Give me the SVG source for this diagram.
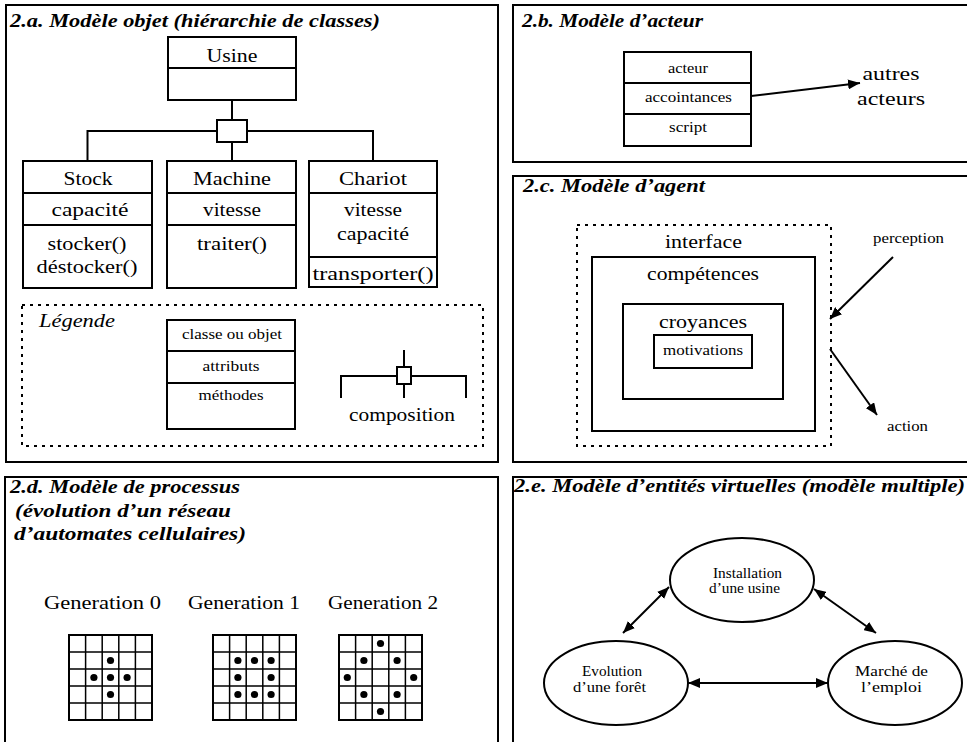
<svg xmlns="http://www.w3.org/2000/svg" xmlns:xlink="http://www.w3.org/1999/xlink" width="967" height="742" viewBox="0 0 967 742">
<style>
text{font-family:"Liberation Serif","Times New Roman",serif;fill:#000}
.panel{fill:none;stroke:#000;stroke-width:2}
.box{fill:#fff;stroke:#000;stroke-width:2}
.ln{fill:none;stroke:#000;stroke-width:2}
.dot{fill:none;stroke:#000;stroke-width:2;stroke-dasharray:3 5}
.title{font-weight:bold;font-style:italic;font-size:19px}
.t{font-size:19px;text-anchor:middle}
.s{font-size:14px;text-anchor:middle}
.it{font-style:italic;font-size:19px}
.gl{fill:none;stroke:#000;stroke-width:1.5}
.cell{fill:#000}
</style>
<defs>
<marker id="ah" viewBox="0 0 12 10" refX="12" refY="5" markerWidth="12" markerHeight="10" markerUnits="userSpaceOnUse" orient="auto-start-reverse">
<path d="M0,0 L12,5 L0,10 z" fill="#000"/>
</marker>
<g id="grid">
<rect x="0" y="0" width="83" height="85" class="ln"/>
<path class="gl" d="M16.6,0V85M33.2,0V85M49.8,0V85M66.4,0V85M0,17H83M0,34H83M0,51H83M0,68H83"/>
</g>
</defs>
<rect width="967" height="742" fill="#fff"/>

<!-- panels -->
<g id="panel-a">
<rect class="panel" x="6" y="5" width="492" height="457"/>
<text class="title" x="10" y="27" textLength="370" lengthAdjust="spacingAndGlyphs">2.a. Modèle objet (hiérarchie de classes)</text>
</g>
<g id="panel-b">
<rect class="panel" x="513" y="5" width="470" height="157"/>
<text class="title" x="522" y="27" textLength="181" lengthAdjust="spacingAndGlyphs">2.b. Modèle d’acteur</text>
</g>
<g id="panel-c">
<rect class="panel" x="513" y="176" width="470" height="286"/>
<text class="title" x="523" y="192" textLength="182" lengthAdjust="spacingAndGlyphs">2.c. Modèle d’agent</text>
</g>
<g id="panel-d">
<rect class="panel" x="5" y="477" width="493" height="280"/>
<text class="title" x="10" y="493" textLength="230" lengthAdjust="spacingAndGlyphs">2.d. Modèle de processus</text>
<text class="title" x="15" y="517" textLength="216" lengthAdjust="spacingAndGlyphs">(évolution d’un réseau</text>
<text class="title" x="14" y="540" textLength="232" lengthAdjust="spacingAndGlyphs">d’automates cellulaires)</text>
</g>
<g id="panel-e">
<rect class="panel" x="513" y="477" width="470" height="280"/>
<text class="title" x="514" y="492" textLength="451" lengthAdjust="spacingAndGlyphs">2.e. Modèle d’entités virtuelles (modèle multiple)</text>
</g>

<!-- 2.a nodes -->
<g id="usine">
<rect class="box" x="168" y="37" width="128" height="63"/>
<line class="ln" x1="168" y1="68" x2="296" y2="68"/>
<text class="t" x="232" y="62" textLength="51" lengthAdjust="spacingAndGlyphs">Usine</text>
</g>
<g id="stock">
<rect class="box" x="23" y="161" width="129" height="127"/>
<line class="ln" x1="23" y1="193" x2="152" y2="193"/>
<line class="ln" x1="23" y1="225" x2="152" y2="225"/>
<text class="t" x="88" y="185" textLength="49" lengthAdjust="spacingAndGlyphs">Stock</text>
<text class="t" x="90" y="216" textLength="77" lengthAdjust="spacingAndGlyphs">capacité</text>
<text class="t" x="87" y="250" textLength="79" lengthAdjust="spacingAndGlyphs">stocker()</text>
<text class="t" x="87" y="273" textLength="101" lengthAdjust="spacingAndGlyphs">déstocker()</text>
</g>
<g id="machine">
<rect class="box" x="167" y="161" width="129" height="127"/>
<line class="ln" x1="167" y1="193" x2="296" y2="193"/>
<line class="ln" x1="167" y1="225" x2="296" y2="225"/>
<text class="t" x="232" y="185" textLength="78" lengthAdjust="spacingAndGlyphs">Machine</text>
<text class="t" x="232" y="216" textLength="58" lengthAdjust="spacingAndGlyphs">vitesse</text>
<text class="t" x="232" y="250" textLength="70" lengthAdjust="spacingAndGlyphs">traiter()</text>
</g>
<g id="chariot">
<rect class="box" x="309" y="161" width="128" height="126"/>
<line class="ln" x1="309" y1="193" x2="437" y2="193"/>
<line class="ln" x1="309" y1="257" x2="437" y2="257"/>
<text class="t" x="373" y="185" textLength="68" lengthAdjust="spacingAndGlyphs">Chariot</text>
<text class="t" x="373" y="216" textLength="58" lengthAdjust="spacingAndGlyphs">vitesse</text>
<text class="t" x="373" y="240" textLength="72" lengthAdjust="spacingAndGlyphs">capacité</text>
<text class="t" x="373" y="280" textLength="121" lengthAdjust="spacingAndGlyphs">transporter()</text>
</g>
<g id="connectors">
<path class="ln" d="M232,100V120M232,142V161M87.5,161V131H217M247,131H373V161"/>
<rect class="box" x="217" y="120" width="30" height="22"/>
<line class="ln" x1="734" y1="98" x2="860" y2="83" marker-end="url(#ah)"/>
<line class="ln" x1="893" y1="257" x2="830" y2="319" marker-end="url(#ah)"/>
<line class="ln" x1="830" y1="349" x2="877" y2="415" marker-end="url(#ah)"/>
<line class="ln" x1="669" y1="587" x2="623" y2="633" marker-start="url(#ah)" marker-end="url(#ah)"/>
<line class="ln" x1="814" y1="589" x2="876" y2="633" marker-start="url(#ah)" marker-end="url(#ah)"/>
<line class="ln" x1="688" y1="683" x2="828" y2="683" marker-start="url(#ah)" marker-end="url(#ah)"/>
</g>

<!-- legend -->
<g id="legende">
<rect class="dot" x="22" y="305" width="461" height="141"/>
<text class="it" x="39" y="327" textLength="76" lengthAdjust="spacingAndGlyphs">Légende</text>
<rect class="box" x="167" y="320" width="128" height="109"/>
<line class="ln" x1="167" y1="351" x2="295" y2="351"/>
<line class="ln" x1="167" y1="383" x2="295" y2="383"/>
<text class="s" x="232" y="339" textLength="100" lengthAdjust="spacingAndGlyphs">classe ou objet</text>
<text class="s" x="231" y="371" textLength="57" lengthAdjust="spacingAndGlyphs">attributs</text>
<text class="s" x="231" y="400" textLength="65" lengthAdjust="spacingAndGlyphs">méthodes</text>
</g>
<g id="composition-legend">
<path class="ln" d="M341,398V376H397M411,376H466V398M404,350V367M404,384V398"/>
<rect class="box" x="397" y="367" width="14" height="17"/>
<text class="t" x="402" y="421" textLength="106" lengthAdjust="spacingAndGlyphs">composition</text>
</g>

<!-- 2.b -->
<g id="acteur">
<rect class="box" x="624" y="52" width="127" height="94"/>
<line class="ln" x1="624" y1="83" x2="751" y2="83"/>
<line class="ln" x1="624" y1="114" x2="751" y2="114"/>
<text class="s" x="688" y="73" textLength="40" lengthAdjust="spacingAndGlyphs">acteur</text>
<text class="s" x="688.5" y="102" textLength="87" lengthAdjust="spacingAndGlyphs">accointances</text>
<text class="s" x="688" y="132" textLength="38" lengthAdjust="spacingAndGlyphs">script</text>
</g>
<g id="autres-acteurs">
<text class="t" x="891" y="80" textLength="57" lengthAdjust="spacingAndGlyphs">autres</text>
<text class="t" x="891" y="105" textLength="68" lengthAdjust="spacingAndGlyphs">acteurs</text>
</g>

<!-- 2.c -->
<g id="interface">
<rect class="dot" x="577" y="225" width="254" height="221"/>
<text class="t" x="703.5" y="248" textLength="77" lengthAdjust="spacingAndGlyphs">interface</text>
</g>
<g id="competences">
<rect class="box" x="592" y="257" width="223" height="174"/>
<text class="t" x="703" y="280" textLength="112" lengthAdjust="spacingAndGlyphs">compétences</text>
</g>
<g id="croyances">
<rect class="box" x="623" y="304" width="160" height="95"/>
<text class="t" x="703" y="328" textLength="88" lengthAdjust="spacingAndGlyphs">croyances</text>
</g>
<g id="motivations">
<rect class="box" x="654" y="335" width="98" height="33"/>
<text class="s" x="703" y="355" textLength="80" lengthAdjust="spacingAndGlyphs">motivations</text>
</g>
<g id="perception">
<text class="s" x="908.5" y="243" textLength="71" lengthAdjust="spacingAndGlyphs">perception</text>
</g>
<g id="action">
<text class="s" x="907.5" y="431" textLength="41" lengthAdjust="spacingAndGlyphs">action</text>
</g>

<!-- 2.d -->
<g id="generation-0">
<text class="t" x="102.5" y="609" textLength="117" lengthAdjust="spacingAndGlyphs">Generation 0</text>
<use xlink:href="#grid" x="69" y="635"/>
<circle class="cell" cx="110.5" cy="660.5" r="3.6"/>
<circle class="cell" cx="93.9" cy="677.5" r="3.6"/>
<circle class="cell" cx="110.5" cy="677.5" r="3.6"/>
<circle class="cell" cx="127.1" cy="677.5" r="3.6"/>
<circle class="cell" cx="110.5" cy="694.5" r="3.6"/>
</g>
<g id="generation-1">
<text class="t" x="244" y="609" textLength="112" lengthAdjust="spacingAndGlyphs">Generation 1</text>
<use xlink:href="#grid" x="213" y="635"/>
<circle class="cell" cx="237.9" cy="660.5" r="3.6"/>
<circle class="cell" cx="254.5" cy="660.5" r="3.6"/>
<circle class="cell" cx="271.1" cy="660.5" r="3.6"/>
<circle class="cell" cx="237.9" cy="677.5" r="3.6"/>
<circle class="cell" cx="271.1" cy="677.5" r="3.6"/>
<circle class="cell" cx="237.9" cy="694.5" r="3.6"/>
<circle class="cell" cx="254.5" cy="694.5" r="3.6"/>
<circle class="cell" cx="271.1" cy="694.5" r="3.6"/>
</g>
<g id="generation-2">
<text class="t" x="383" y="609" textLength="110" lengthAdjust="spacingAndGlyphs">Generation 2</text>
<use xlink:href="#grid" x="339" y="635"/>
<circle class="cell" cx="380.5" cy="643.5" r="3.6"/>
<circle class="cell" cx="363.9" cy="660.5" r="3.6"/>
<circle class="cell" cx="397.1" cy="660.5" r="3.6"/>
<circle class="cell" cx="347.3" cy="677.5" r="3.6"/>
<circle class="cell" cx="413.7" cy="677.5" r="3.6"/>
<circle class="cell" cx="363.9" cy="694.5" r="3.6"/>
<circle class="cell" cx="397.1" cy="694.5" r="3.6"/>
<circle class="cell" cx="380.5" cy="711.5" r="3.6"/>
</g>

<!-- 2.e -->
<g id="installation">
<ellipse class="box" cx="742" cy="580" rx="72" ry="42"/>
<text class="s" x="747.5" y="578" textLength="69" lengthAdjust="spacingAndGlyphs">Installation</text>
<text class="s" x="744.5" y="593" textLength="71" lengthAdjust="spacingAndGlyphs">d’une usine</text>
</g>
<g id="evolution">
<ellipse class="box" cx="616" cy="683" rx="72" ry="42"/>
<text class="s" x="612" y="676" textLength="60" lengthAdjust="spacingAndGlyphs">Evolution</text>
<text class="s" x="609.5" y="692" textLength="73" lengthAdjust="spacingAndGlyphs">d’une forêt</text>
</g>
<g id="marche">
<ellipse class="box" cx="895" cy="683" rx="67" ry="42"/>
<text class="s" x="891.5" y="676" textLength="73" lengthAdjust="spacingAndGlyphs">Marché de</text>
<text class="s" x="891.5" y="692" textLength="61" lengthAdjust="spacingAndGlyphs">l’emploi</text>
</g>
</svg>
